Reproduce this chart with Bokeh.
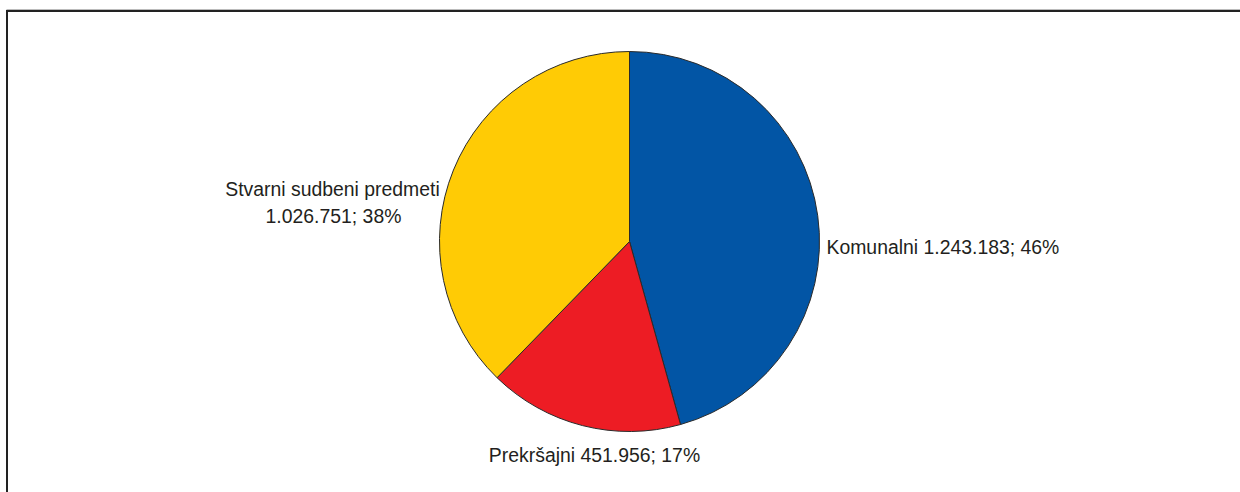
from bokeh.plotting import figure
from bokeh.models import Range1d, ColumnDataSource
from bokeh.core.properties import value
from bokeh.embed import file_html
from bokeh.resources import INLINE
import numpy as np

# ---- data ----
categories = ["Komunalni", "Prekršajni", "Stvarni sudbeni predmeti"]
counts = [1243183, 451956, 1026751]
colors = ["#0255A5", "#ED1C24", "#FFCB05"]

# ---- layout (page pixel coordinates; y data = 492 - screen y) ----
W, H = 1240, 492
p = figure(width=W, height=H, output_backend="svg", toolbar_location=None,
           x_range=Range1d(0, W), y_range=Range1d(0, H),
           min_border=0)
p.axis.visible = False
p.grid.visible = False
p.outline_line_color = None
p.background_fill_color = "white"
p.border_fill_color = "white"

cx, cy, r = 629, 492 - 241, 190

vals = np.array(counts, dtype=float)
frac = vals / vals.sum()
cum = np.concatenate([[0], np.cumsum(frac)])
start = np.pi / 2 - cum[:-1] * 2 * np.pi
end = np.pi / 2 - cum[1:] * 2 * np.pi

src = ColumnDataSource(dict(start=start, end=end, color=colors))
p.wedge(x=cx, y=cy, radius=r, radius_units="screen", start_angle="start", end_angle="end",
        direction="clock", fill_color="color", line_color="#2a2a2a", line_width=1, source=src)

def fmt(v):
    return f"{v:,}".replace(",", ".")

pct = [int(round(f * 100)) for f in frac]
lab_k = f"{categories[0]} {fmt(counts[0])}; {pct[0]}%"
lab_p = f"{categories[1]} {fmt(counts[1])}; {pct[1]}%"
lab_s1 = categories[2]
lab_s2 = f"{fmt(counts[2])}; {pct[2]}%"

font = value("Liberation Sans")
common = dict(text_font=font, text_font_size="19.4px", text_color="#231f20", text_baseline="alphabetic")
p.text(x=[826], y=[492 - 246], text=[lab_k], text_align="left", **common)
p.text(x=[594], y=[492 - 454], text=[lab_p], text_align="center", **common)
p.text(x=[332, 333], y=[492 - 188, 492 - 215], text=[lab_s1, lab_s2], text_align="center", **common)

# frame lines
p.segment(x0=[6], y0=[492 - 9], x1=[1240], y1=[492 - 9], line_color="#bbbbbb", line_width=1)
p.segment(x0=[5.5], y0=[492 - 10.5], x1=[1240], y1=[492 - 10.5], line_color="#222222", line_width=2)
p.segment(x0=[6.5], y0=[492 - 9.5], x1=[6.5], y1=[0], line_color="#222222", line_width=2)

open("out.html", "w").write(file_html(p, INLINE))
